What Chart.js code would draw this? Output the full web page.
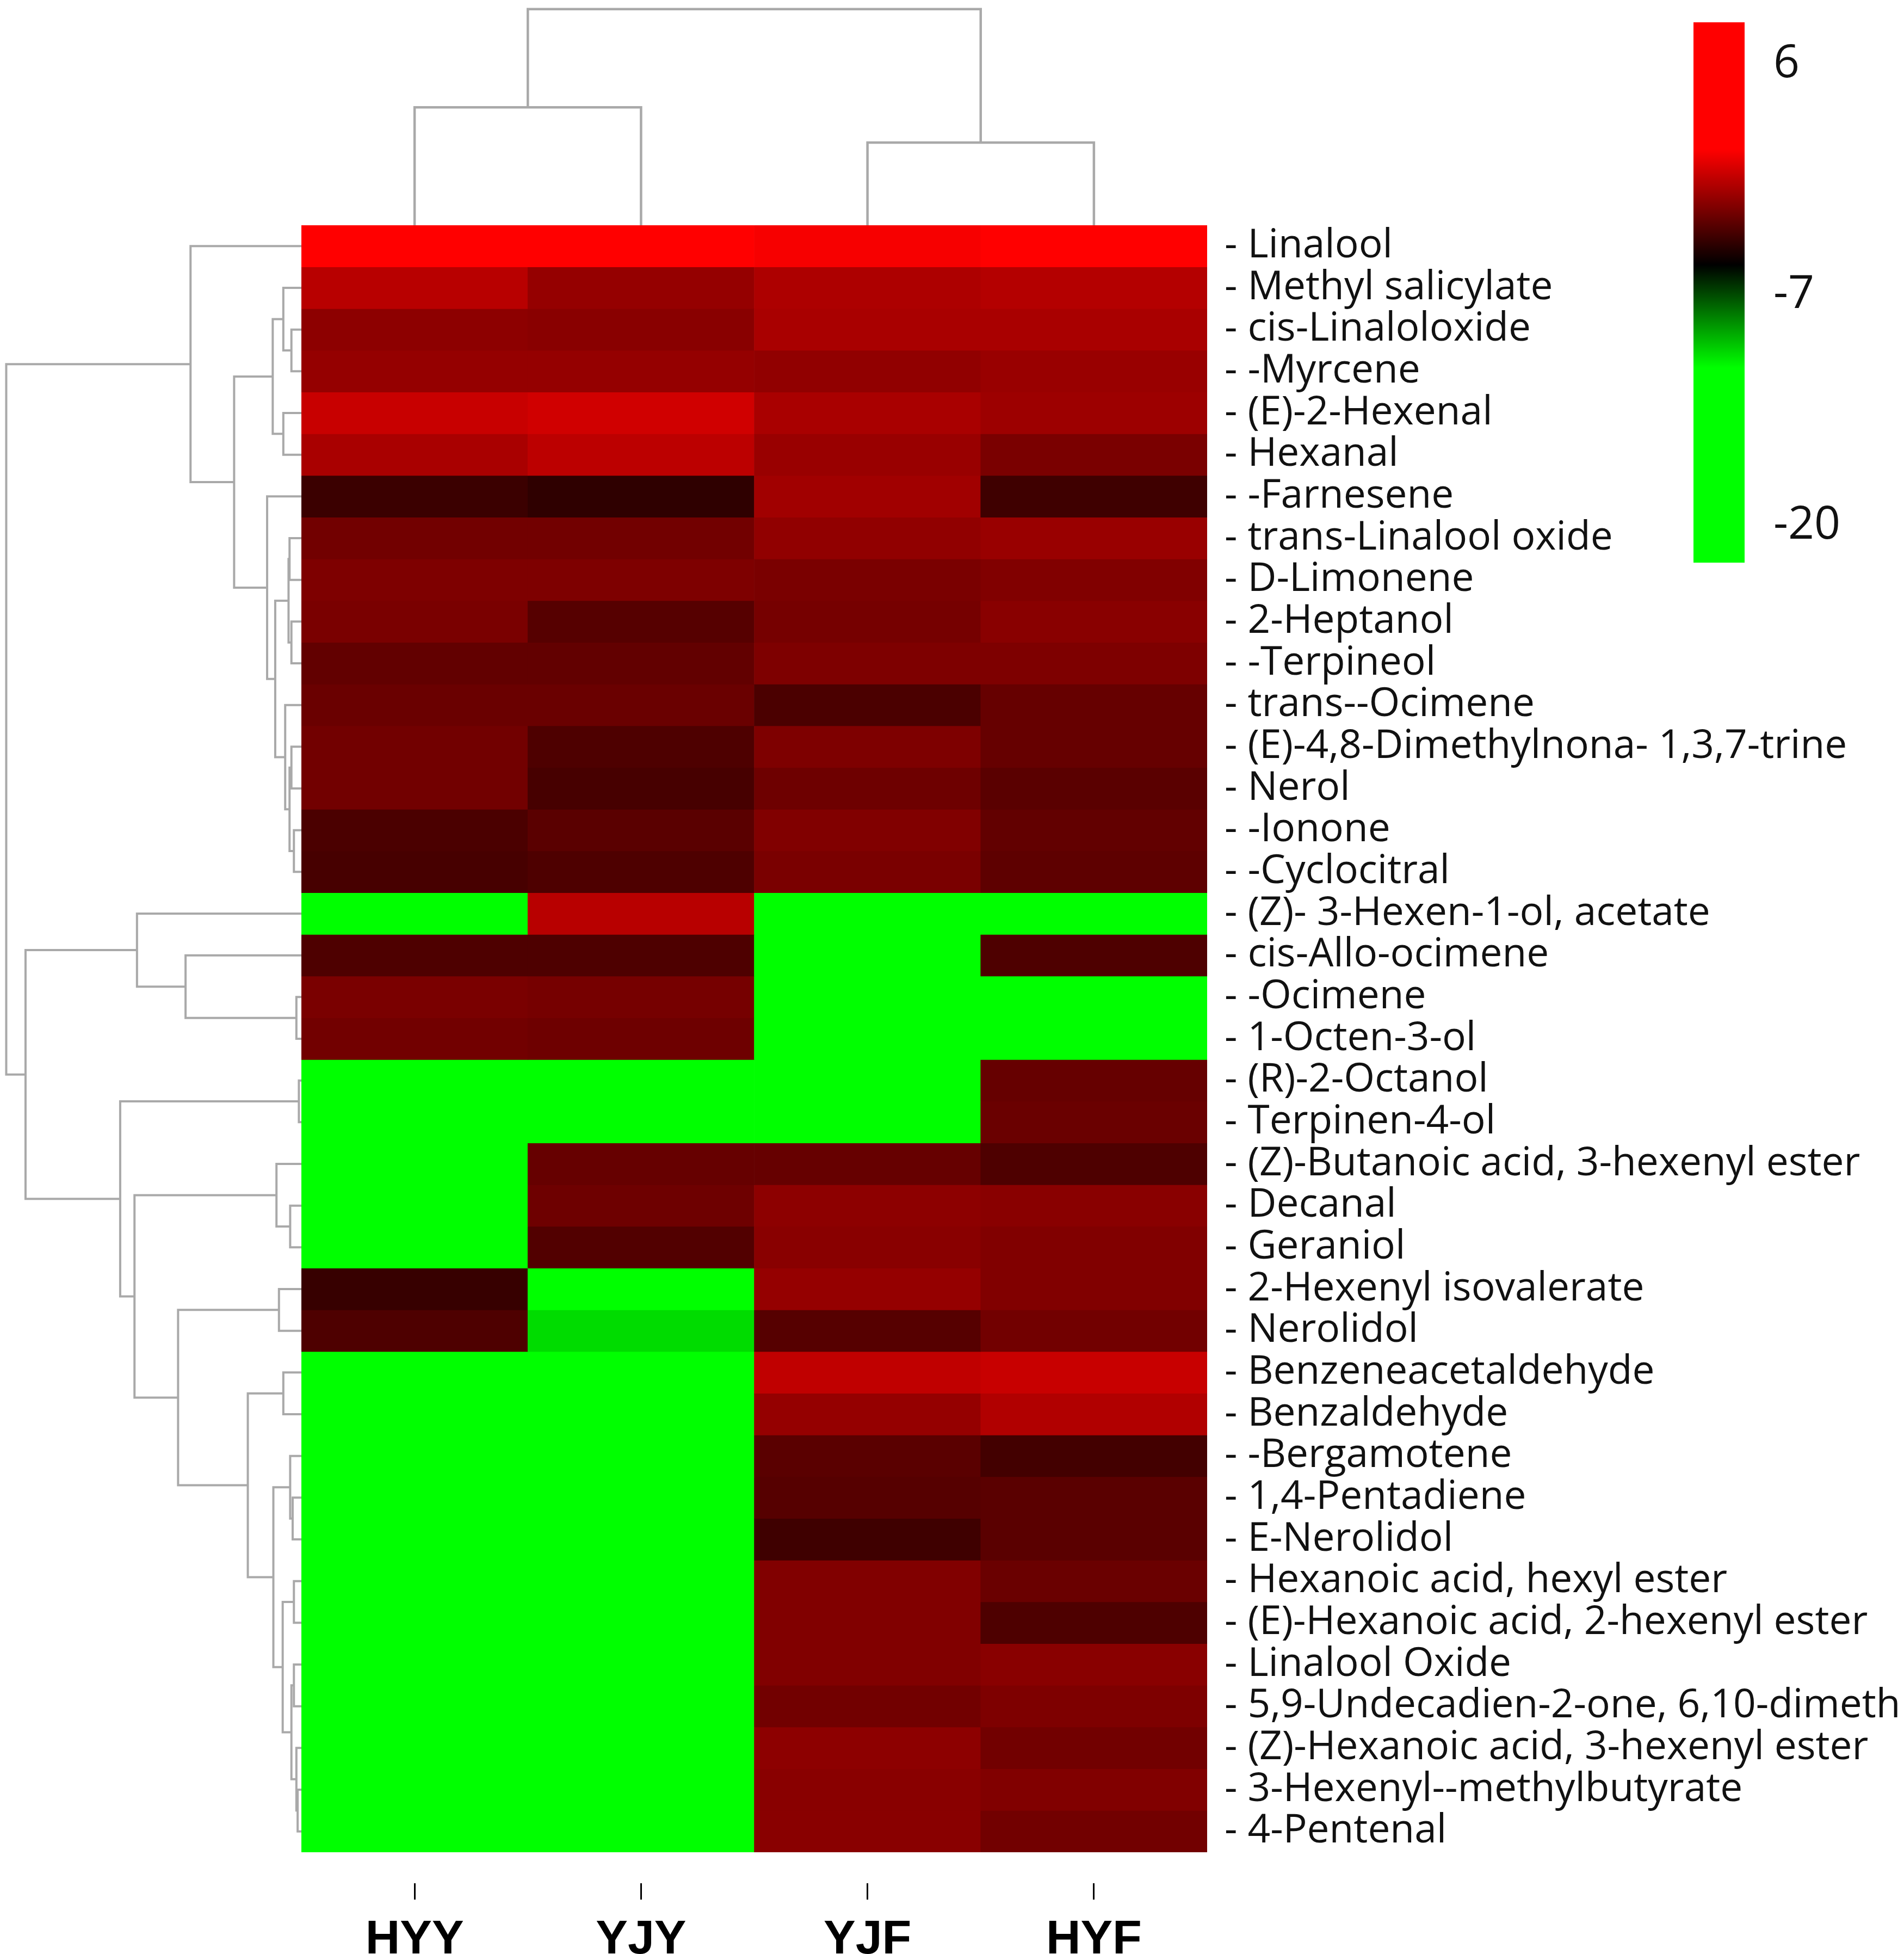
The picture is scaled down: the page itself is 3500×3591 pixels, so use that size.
<!DOCTYPE html>
<html><head><meta charset="utf-8">
<script src="https://cdn.jsdelivr.net/npm/chart.js@4.4.1/dist/chart.umd.min.js"></script>
<style>
html,body{margin:0;padding:0;background:#fff;}
#wrap{position:relative;width:3500px;height:3591px;background:#fff;overflow:hidden;}
canvas{position:absolute;}
</style></head><body>
<div id="wrap">
<canvas id="heat" width="3500" height="3591" style="left:0;top:0;width:3500px;height:3591px"></canvas>
<canvas id="topDendro" width="1665" height="414" style="left:554px;top:0;width:1665px;height:414px"></canvas>
<canvas id="leftDendro" width="554" height="2990" style="left:0;top:414px;width:554px;height:2990px"></canvas>
<canvas id="cbar" width="500" height="1300" style="left:3000px;top:-100px;width:500px;height:1300px"></canvas>
</div>
<script>
// ---------- data ----------
const columns = ['HYY', 'YJY', 'YJF', 'HYF'];
const compounds = ["Linalool","Methyl salicylate","cis-Linaloloxide","-Myrcene","(E)-2-Hexenal","Hexanal","-Farnesene","trans-Linalool oxide","D-Limonene","2-Heptanol","-Terpineol","trans--Ocimene","(E)-4,8-Dimethylnona- 1,3,7-trine","Nerol","-Ionone","-Cyclocitral","(Z)- 3-Hexen-1-ol, acetate","cis-Allo-ocimene","-Ocimene","1-Octen-3-ol","(R)-2-Octanol","Terpinen-4-ol","(Z)-Butanoic acid, 3-hexenyl ester","Decanal","Geraniol","2-Hexenyl isovalerate","Nerolidol","Benzeneacetaldehyde","Benzaldehyde","-Bergamotene","1,4-Pentadiene","E-Nerolidol","Hexanoic acid, hexyl ester","(E)-Hexanoic acid, 2-hexenyl ester","Linalool Oxide","5,9-Undecadien-2-one, 6,10-dimeth","(Z)-Hexanoic acid, 3-hexenyl ester","3-Hexenyl--methylbutyrate","4-Pentenal"];
const HYY = [6.0,-0.6,-1.7,-1.5,-0.2,-1.0,-3.8,-2.4,-2.1,-2.2,-2.8,-2.6,-2.4,-2.4,-3.4,-3.5,-20,-3.3,-2.2,-2.4,-20,-20,-20,-20,-20,-3.9,-3.3,-20,-20,-20,-20,-20,-20,-20,-20,-20,-20,-20,-20];
const YJY = [6.0,-1.5,-1.8,-1.5,0.0,-0.5,-4.1,-2.4,-2.1,-3.1,-2.8,-2.6,-3.3,-3.5,-3.0,-3.3,-0.6,-3.3,-2.3,-2.5,-20,-20,-2.7,-2.5,-3.2,-20,-10.3,-20,-20,-20,-20,-20,-20,-20,-20,-20,-20,-20,-20];
const YJF = [1.0,-0.9,-1.0,-1.6,-1.0,-1.4,-1.2,-1.6,-2.2,-2.3,-2.1,-3.4,-2.1,-2.5,-2.0,-2.2,-20,-20,-20,-20,-20,-20,-2.7,-1.7,-1.8,-1.5,-3.1,-0.4,-1.5,-3.0,-3.1,-3.7,-2.0,-2.0,-2.0,-2.4,-1.7,-1.8,-1.8];
const HYF = [6.0,-0.7,-1.0,-1.4,-1.3,-2.2,-3.7,-1.4,-2.0,-1.8,-2.1,-2.7,-2.7,-3.0,-2.8,-2.9,-20,-3.3,-20,-20,-2.7,-2.6,-3.3,-1.8,-2.0,-2.0,-2.4,-0.2,-0.8,-3.6,-3.0,-3.0,-2.6,-3.3,-1.8,-2.1,-2.4,-2.0,-2.4];
const colorTicks = [6, -7, -20];
const colorMin = -22.07, colorMax = 8.35;
// column dendrogram (hclust style: negative = leaf, positive = earlier merge)
const colMerges = [[-1,-2],[-3,-4],[1,2]];
const colHeights = [94.6, 66.3, 173.4];
// row dendrogram
const rowMerges = [[-3,-4],[-2,1],[-5,-6],[2,3],[-8,-9],[-10,-11],[5,6],[-13,-14],[-15,-16],[8,9],[-12,10],[7,11],[-7,12],[4,13],[-1,14],
  [-19,-20],[-18,16],[-17,17],[-21,-22],[-24,-25],[-23,20],[-26,-27],[-28,-29],[-31,-32],[-30,24],[-33,-34],[-35,-36],[-38,-39],[-37,28],[27,29],[26,30],[25,31],[23,32],[22,33],[21,34],[19,35],[18,36],[15,37]];
const rowHeights = [8,14.5,14.5,23,9.5,8,10.3,8,6,9.5,13,21,27.5,54,89,
  4,93,132,2,9,20,18,14.5,7,9,6,6,3,4,8,15,22.5,43,99,134,145.5,221.5,237];

// ---------- helpers ----------
function colorFor(v){
  const g = -11.1, k = -5.3, r = 1.2;
  if (v <= g) return 'rgb(0,255,0)';
  if (v < k) { const t = (k - v) / (k - g); return 'rgb(0,' + Math.round(255*t) + ',0)'; }
  if (v < r) { const t = (v - k) / (r - k); return 'rgb(' + Math.round(255*t) + ',0,0)'; }
  return 'rgb(255,0,0)';
}
function dendroSegments(merges, heights){
  const pos = [];
  const P = c => c < 0 ? (-c - 1) + 0.5 : pos[c - 1];
  const H = c => c < 0 ? 0 : heights[c - 1];
  return merges.map((m, i) => {
    const a = m[0], b = m[1], h = heights[i];
    const seg = [[P(a), H(a)], [P(a), h], [P(b), h], [P(b), H(b)]];
    pos[i] = (P(a) + P(b)) / 2;
    return seg;
  });
}
const lineColor = '#a9a9a9';
const base = {responsive:false, animation:false, devicePixelRatio:1,
  plugins:{legend:{display:false}, tooltip:{enabled:false}}};

// ---------- heatmap ----------
const values = [HYY, YJY, YJF, HYF];
const heatSets = compounds.map((name, r) => ({
  label: name,
  data: columns.map(() => 1),
  backgroundColor: columns.map((c, ci) => colorFor(values[ci][r])),
  borderWidth: 0, barPercentage: 1, categoryPercentage: 1
}));
new Chart(document.getElementById('heat'), {
  type: 'bar',
  data: {labels: columns, datasets: heatSets},
  options: Object.assign({}, base, {
    layout: {padding: {left: 554, top: 414, right: 0, bottom: 0}},
    scales: {
      x: {stacked: true, offset: true,
        grid: {display: true, drawOnChartArea: false, offset: false, drawTicks: true, tickLength: 87, tickWidth: 3, tickColor: '#000', tickBorderDash: [0, 57, 30, 400]},
        border: {display: false},
        ticks: {font: {family: 'Liberation Sans', size: 88, weight: 'bold'}, color: '#000', padding: 22, maxRotation: 0},
        afterFit: s => { s.height = 187; }},
      y: {stacked: true, display: false, min: 0, max: 39, reverse: true},
      yl: {type: 'category', labels: compounds, position: 'right', offset: true,
        grid: {display: false, drawTicks: false}, border: {display: false},
        ticks: {font: {family: 'Open Sans', size: 73}, color: '#111', padding: 32, autoSkip: false,
          callback: (v, i) => '- ' + compounds[i]},
        afterFit: s => { s.width = 1281; }}
    }
  })
});

// ---------- column dendrogram ----------
new Chart(document.getElementById('topDendro'), {
  type: 'scatter',
  data: {datasets: dendroSegments(colMerges, colHeights).map(seg => ({
    data: seg.map(p => ({x: p[0], y: p[1]})), showLine: true, borderColor: lineColor,
    borderWidth: 4.5, pointRadius: 0, tension: 0, clip: false}))},
  options: Object.assign({}, base, {
    layout: {padding: 0},
    scales: {x: {display: false, min: 0, max: 4}, y: {display: false, min: 0, max: 180.7}}
  })
});

// ---------- row dendrogram ----------
new Chart(document.getElementById('leftDendro'), {
  type: 'scatter',
  data: {datasets: dendroSegments(rowMerges, rowHeights).map(seg => ({
    data: seg.map(p => ({x: p[1], y: p[0]})), showLine: true, borderColor: lineColor,
    borderWidth: 4, pointRadius: 0, tension: 0, clip: false}))},
  options: Object.assign({}, base, {
    layout: {padding: 0},
    scales: {x: {display: false, min: 0, max: 242, reverse: true}, y: {display: false, min: 0, max: 39, reverse: true}}
  })
});

// ---------- colour bar ----------
function barGradient(chart){
  const area = chart.chartArea, sc = chart.scales.y;
  if (!area || !sc) return '#000';
  const y0 = sc.getPixelForValue(colorMax), y1 = sc.getPixelForValue(colorMin);
  const g = chart.ctx.createLinearGradient(0, y0, 0, y1);
  for (let v = colorMax; v >= colorMin; v -= 0.1) {
    g.addColorStop(Math.min(1, Math.max(0, (sc.getPixelForValue(v) - y0) / (y1 - y0))), colorFor(v));
  }
  g.addColorStop(1, colorFor(colorMin));
  return g;
}
new Chart(document.getElementById('cbar'), {
  type: 'bar',
  data: {labels: [''], datasets: [{data: [[colorMin, colorMax]], backgroundColor: ctx => barGradient(ctx.chart),
    borderWidth: 0, barPercentage: 1, categoryPercentage: 1}]},
  options: Object.assign({}, base, {
    layout: {padding: {left: 113, top: 141, bottom: 166, right: 0}},
    scales: {
      x: {display: false},
      y: {position: 'right', min: colorMin, max: colorMax,
        afterBuildTicks: s => { s.ticks = colorTicks.map(v => ({value: v})); },
        grid: {display: false, drawTicks: false}, border: {display: false},
        ticks: {font: {family: 'Open Sans', size: 84}, color: '#111', padding: 53},
        afterFit: s => { s.width = 293; }}
    }
  })
});
</script>
</body></html>
